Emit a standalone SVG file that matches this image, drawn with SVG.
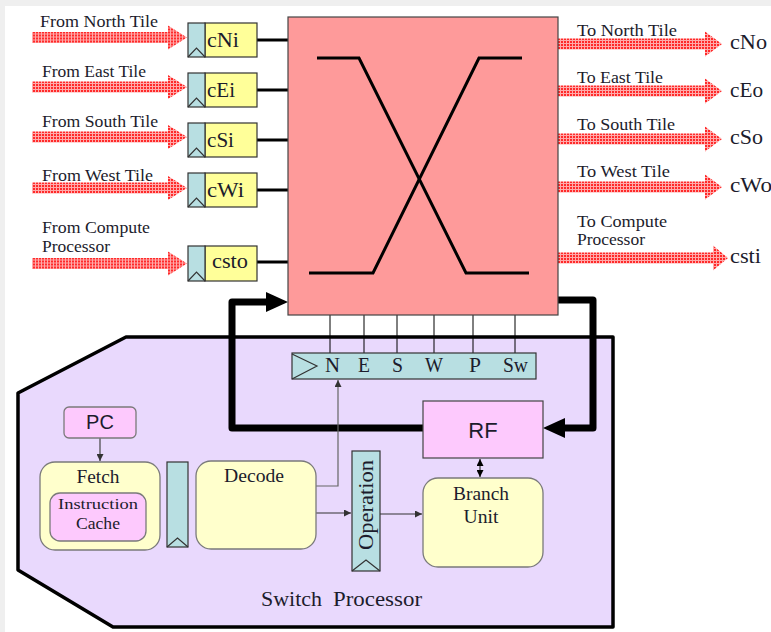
<svg xmlns="http://www.w3.org/2000/svg" width="771" height="632" viewBox="0 0 771 632">
<style>
.lbl{font-family:"Liberation Serif","DejaVu Serif",serif;font-size:16px;fill:#1c1c2c}
.reg{font-family:"Liberation Serif","DejaVu Serif",serif;font-size:20px;fill:#1c1c2c}
.big{font-family:"Liberation Serif","DejaVu Serif",serif;font-size:20px;fill:#1c1c2c}
.sans{font-family:"Liberation Sans",Arial,sans-serif;font-size:20px;fill:#1c1c2c}
.box{stroke:#7a7a7a;stroke-width:1.3}
.teal{fill:#b8dfe2;stroke:#333;stroke-width:1.2}
.yel{fill:#ffff99;stroke:#333;stroke-width:1.2}
.thin{stroke:#000;stroke-width:1;fill:none}
.gray{stroke:#666;stroke-width:1.2;fill:none}
.thick{stroke:#000;stroke-width:7;fill:none;stroke-linejoin:round}
.clk{fill:none;stroke:#333;stroke-width:1.2}
</style>
<defs>
<pattern id="hatch" width="3" height="3" patternUnits="userSpaceOnUse">
<rect width="3" height="3" fill="#ffaaaa"/>
<rect width="2" height="2" fill="#ff2a2a"/>
</pattern>
<path id="inArrow" d="M32,-5.5 H168 V-12 L187,0 L168,12 V5.5 H32 Z" fill="url(#hatch)"/>
<path id="outArrow" d="M558,-5.5 H705 V-12.5 L722,0 L705,12.5 V5.5 H558 Z" fill="url(#hatch)"/>
<marker id="ah" viewBox="0 0 10 10" refX="10" refY="5" markerWidth="7" markerHeight="7" orient="auto-start-reverse" markerUnits="userSpaceOnUse">
<path d="M0,0 L10,5 L0,10 Z" fill="#000"/>
</marker>
<marker id="ahg" viewBox="0 0 10 10" refX="10" refY="5" markerWidth="7" markerHeight="7" orient="auto" markerUnits="userSpaceOnUse">
<path d="M0,0 L10,5 L0,10 Z" fill="#333"/>
</marker>
</defs>

<rect x="0" y="0" width="771" height="632" fill="#fff"/>
<rect x="0" y="0" width="771" height="6" fill="#efefef"/>
<rect x="0" y="0" width="5" height="632" fill="#efefef"/>

<!-- Switch processor area -->
<g id="switch-processor">
<polygon points="126,337 613,337 613,627 113,627 18,570 18,393" fill="#e9d9fd" stroke="#000" stroke-width="3.5" stroke-linejoin="round"/>
<text class="big" x="261" y="606" textLength="61" lengthAdjust="spacingAndGlyphs">Switch</text>
<text class="big" x="333" y="606" textLength="89" lengthAdjust="spacingAndGlyphs">Processor</text>
</g>

<!-- Input arrows -->
<g id="inputs">
<use href="#inArrow" transform="translate(0,37.5)"/>
<use href="#inArrow" transform="translate(0,87)"/>
<use href="#inArrow" transform="translate(0,137)"/>
<use href="#inArrow" transform="translate(0,188)"/>
<use href="#inArrow" transform="translate(0,263.5)"/>
<text class="lbl" x="40" y="27" textLength="118" lengthAdjust="spacingAndGlyphs">From North Tile</text>
<text class="lbl" x="42" y="77" textLength="104" lengthAdjust="spacingAndGlyphs">From East Tile</text>
<text class="lbl" x="42" y="127" textLength="116" lengthAdjust="spacingAndGlyphs">From South Tile</text>
<text class="lbl" x="42" y="181" textLength="111" lengthAdjust="spacingAndGlyphs">From West Tile</text>
<text class="lbl" x="42" y="233" textLength="108" lengthAdjust="spacingAndGlyphs">From Compute</text>
<text class="lbl" x="42" y="252" textLength="68" lengthAdjust="spacingAndGlyphs">Processor</text>
</g>

<!-- Output arrows -->
<g id="outputs">
<use href="#outArrow" transform="translate(0,44)"/>
<use href="#outArrow" transform="translate(0,91)"/>
<use href="#outArrow" transform="translate(0,139)"/>
<use href="#outArrow" transform="translate(0,187)"/>
<path d="M558,252.5 H713 V245.5 L728,258 L713,270.5 V263.5 H558 Z" fill="url(#hatch)"/>
<text class="lbl" x="577" y="36" textLength="100" lengthAdjust="spacingAndGlyphs">To North Tile</text>
<text class="lbl" x="577" y="83" textLength="86" lengthAdjust="spacingAndGlyphs">To East Tile</text>
<text class="lbl" x="577" y="130" textLength="98" lengthAdjust="spacingAndGlyphs">To South Tile</text>
<text class="lbl" x="577" y="177" textLength="93" lengthAdjust="spacingAndGlyphs">To West Tile</text>
<text class="lbl" x="577" y="227" textLength="90" lengthAdjust="spacingAndGlyphs">To Compute</text>
<text class="lbl" x="577" y="245" textLength="68" lengthAdjust="spacingAndGlyphs">Processor</text>
<text class="reg" x="730" y="49" textLength="37" lengthAdjust="spacingAndGlyphs">cNo</text>
<text class="reg" x="730" y="97" textLength="33" lengthAdjust="spacingAndGlyphs">cEo</text>
<text class="reg" x="730" y="144" textLength="33" lengthAdjust="spacingAndGlyphs">cSo</text>
<text class="reg" x="730" y="192" textLength="42" lengthAdjust="spacingAndGlyphs">cWo</text>
<text class="reg" x="730" y="263" textLength="31" lengthAdjust="spacingAndGlyphs">csti</text>
</g>

<!-- connectors -->
<g id="connectors">
<line x1="257" y1="40" x2="288" y2="40" stroke="#000" stroke-width="3"/>
<line x1="257" y1="90" x2="288" y2="90" stroke="#000" stroke-width="3"/>
<line x1="257" y1="140" x2="288" y2="140" stroke="#000" stroke-width="3"/>
<line x1="257" y1="190" x2="288" y2="190" stroke="#000" stroke-width="3"/>
<line x1="257" y1="262" x2="288" y2="262" stroke="#000" stroke-width="3"/>
<line class="thin" x1="330" y1="315" x2="330" y2="353"/>
<line class="thin" x1="364" y1="315" x2="364" y2="353"/>
<line class="thin" x1="397" y1="315" x2="397" y2="353"/>
<line class="thin" x1="434" y1="315" x2="434" y2="353"/>
<line class="thin" x1="473" y1="315" x2="473" y2="353"/>
<line class="thin" x1="515" y1="315" x2="515" y2="353"/>
<!-- thick feedback loops -->
<path class="thick" d="M423,428 H232 V302 H268"/>
<polygon points="266,292 288,302 266,312" fill="#000"/>
<path class="thick" d="M558,300 H593 V428 H563"/>
<polygon points="565,418 543,428 565,438" fill="#000"/>
<!-- thin arrows -->
<line x1="100" y1="438" x2="100" y2="461" stroke="#444" stroke-width="1.2" marker-end="url(#ahg)"/>
<path class="gray" d="M316,486 H338 V380" marker-end="url(#ahg)"/>
<line x1="316" y1="513" x2="351" y2="513" stroke="#333" stroke-width="1.2" marker-end="url(#ahg)"/>
<line x1="380" y1="514" x2="422" y2="514" stroke="#333" stroke-width="1.2" marker-end="url(#ahg)"/>
<line x1="480" y1="459" x2="480" y2="477" stroke="#333" stroke-width="1.2" marker-start="url(#ah)" marker-end="url(#ah)"/>
</g>

<!-- crossbar -->
<g id="crossbar">
<rect x="288" y="17" width="270" height="298" fill="#fe9a9a" stroke="#444" stroke-width="1.2"/>
<polyline points="317,58 359,58 466,273 529,273" fill="none" stroke="#000" stroke-width="3"/>
<polyline points="309,273 373,273 479,58 522,58" fill="none" stroke="#000" stroke-width="3"/>
</g>

<!-- input registers -->
<g id="reg-cNi">
<rect class="yel" x="205" y="23" width="52" height="34"/>
<rect class="teal" x="188" y="23" width="17" height="34"/>
<polyline class="clk" points="188,57 196.5,48 205,57"/>
<text class="reg" x="207" y="47" textLength="32" lengthAdjust="spacingAndGlyphs">cNi</text>
</g>
<g id="reg-cEi">
<rect class="yel" x="205" y="73" width="52" height="34"/>
<rect class="teal" x="188" y="73" width="17" height="34"/>
<polyline class="clk" points="188,107 196.5,98 205,107"/>
<text class="reg" x="207" y="97" textLength="28" lengthAdjust="spacingAndGlyphs">cEi</text>
</g>
<g id="reg-cSi">
<rect class="yel" x="205" y="123" width="52" height="34"/>
<rect class="teal" x="188" y="123" width="17" height="34"/>
<polyline class="clk" points="188,157 196.5,148 205,157"/>
<text class="reg" x="207" y="147" textLength="27" lengthAdjust="spacingAndGlyphs">cSi</text>
</g>
<g id="reg-cWi">
<rect class="yel" x="205" y="173" width="52" height="34"/>
<rect class="teal" x="188" y="173" width="17" height="34"/>
<polyline class="clk" points="188,207 196.5,198 205,207"/>
<text class="reg" x="207" y="197" textLength="37" lengthAdjust="spacingAndGlyphs">cWi</text>
</g>
<g id="reg-csto">
<rect class="yel" x="205" y="246" width="52" height="35"/>
<rect class="teal" x="188" y="246" width="17" height="35"/>
<polyline class="clk" points="188,281 196.5,272 205,281"/>
<text class="reg" x="212" y="268" textLength="36" lengthAdjust="spacingAndGlyphs">csto</text>
</g>

<!-- NESW register -->
<g id="reg-nesw">
<rect class="teal" x="292" y="353" width="244" height="26"/>
<polyline class="clk" points="292,354 317,366 292,379"/>
<text class="reg" x="325" y="372" textLength="15" lengthAdjust="spacingAndGlyphs">N</text>
<text class="reg" x="358" y="372" textLength="12" lengthAdjust="spacingAndGlyphs">E</text>
<text class="reg" x="392" y="372" textLength="11" lengthAdjust="spacingAndGlyphs">S</text>
<text class="reg" x="425" y="372" textLength="18" lengthAdjust="spacingAndGlyphs">W</text>
<text class="reg" x="469" y="372" textLength="12" lengthAdjust="spacingAndGlyphs">P</text>
<text class="reg" x="503" y="372" textLength="25" lengthAdjust="spacingAndGlyphs">Sw</text>
</g>

<!-- PC -->
<g id="pc">
<rect class="box" x="64" y="407" width="72" height="31" rx="5" fill="#fdc9fd"/>
<text class="sans" x="100" y="429" text-anchor="middle">PC</text>
</g>

<!-- Fetch -->
<g id="fetch">
<rect class="box" x="40" y="462" width="120" height="88" rx="15" fill="#ffffcc"/>
<text class="lbl" x="98" y="483" text-anchor="middle" textLength="43" lengthAdjust="spacingAndGlyphs" style="font-size:18px">Fetch</text>
<rect class="box" x="50" y="493" width="96" height="48" rx="10" fill="#fdc9fd"/>
<text class="lbl" x="98" y="509" text-anchor="middle" textLength="80" lengthAdjust="spacingAndGlyphs" style="font-size:15px">Instruction</text>
<text class="lbl" x="98" y="529" text-anchor="middle" textLength="44" lengthAdjust="spacingAndGlyphs" style="font-size:16px">Cache</text>
</g>

<!-- pipeline register -->
<g id="reg-fd">
<rect class="teal" x="167" y="462" width="21" height="85"/>
<polyline class="clk" points="167,547 177.5,538 188,547"/>
</g>

<!-- Decode -->
<g id="decode">
<rect class="box" x="196" y="461" width="120" height="88" rx="15" fill="#ffffcc"/>
<text class="lbl" x="254" y="482" text-anchor="middle" textLength="60" lengthAdjust="spacingAndGlyphs" style="font-size:18px">Decode</text>
</g>

<!-- Operation -->
<g id="operation">
<rect class="teal" x="352" y="451" width="28" height="120"/>
<polyline class="clk" points="352,571 366,560 380,571"/>
<text class="reg" transform="translate(373,550) rotate(-90)" textLength="90" lengthAdjust="spacingAndGlyphs">Operation</text>
</g>

<!-- RF -->
<g id="rf">
<rect x="423" y="401" width="120" height="57" fill="#fdc9fd" stroke="#444" stroke-width="1.2"/>
<text class="sans" x="483" y="438" text-anchor="middle" style="font-size:22px">RF</text>
</g>

<!-- Branch Unit -->
<g id="branch">
<rect class="box" x="423" y="478" width="120" height="89" rx="15" fill="#ffffcc"/>
<text class="lbl" x="481" y="500" text-anchor="middle" textLength="56" lengthAdjust="spacingAndGlyphs" style="font-size:18px">Branch</text>
<text class="lbl" x="481" y="523" text-anchor="middle" textLength="35" lengthAdjust="spacingAndGlyphs" style="font-size:18px">Unit</text>
</g>
</svg>
